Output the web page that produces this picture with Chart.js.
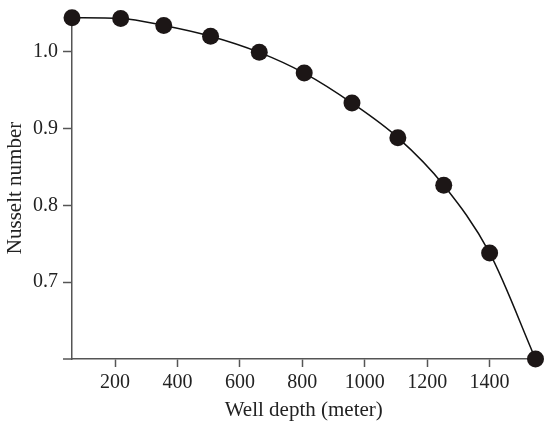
<!DOCTYPE html>
<html>
<head>
<meta charset="utf-8">
<script src="https://cdn.jsdelivr.net/npm/chart.js@4/dist/chart.umd.min.js"></script>
<style>
html,body{margin:0;padding:0;background:#fff;}
#wrap{width:544px;height:427px;}
</style>
</head>
<body>
<div id="wrap"><canvas id="c" width="544" height="427"></canvas></div>
<script>
const depths = [62, 218, 356, 506, 662, 806, 959, 1106, 1253, 1400, 1547];
const nusselt = [1.044, 1.043, 1.034, 1.020, 0.999, 0.972, 0.933, 0.888, 0.826, 0.738, 0.600];
const xTicks = [200, 400, 600, 800, 1000, 1200, 1400];
const yTicks = [0.7, 0.8, 0.9, 1.0];

const axisColor = '#555';
const family = '"Liberation Serif", "DejaVu Serif", serif';
const font = {family: family, size: 20};
const titleFont = {family: family, size: 21};

const extendAxis = {
  id: 'extendAxis',
  afterDraw(chart) {
    const {ctx, chartArea} = chart;
    ctx.save();
    ctx.strokeStyle = axisColor;
    ctx.lineWidth = 1.5;
    ctx.beginPath();
    ctx.moveTo(chartArea.left - 9, chartArea.bottom);
    ctx.lineTo(chartArea.left, chartArea.bottom);
    ctx.stroke();
    ctx.restore();
  }
};

new Chart(document.getElementById('c'), {
  type: 'scatter',
  data: {
    datasets: [{
      data: depths.map((d, i) => ({x: d, y: nusselt[i]})),
      showLine: true,
      borderColor: '#111',
      borderWidth: 1.5,
      cubicInterpolationMode: 'monotone',
      pointRadius: 8.5,
      pointHoverRadius: 8.5,
      pointBackgroundColor: '#1c1616',
      pointBorderColor: '#1c1616',
      pointBorderWidth: 0,
      clip: false
    }]
  },
  plugins: [extendAxis],
  options: {
    responsive: false,
    animation: false,
    devicePixelRatio: 1,
    layout: {padding: {left: 0, right: 7, top: 15, bottom: 0}},
    plugins: {legend: {display: false}, tooltip: {enabled: false}},
    scales: {
      x: {
        type: 'linear',
        min: 62,
        max: 1547,
        afterFit(s) { s.height = 68; },
        afterBuildTicks(s) { s.ticks = xTicks.map(v => ({value: v})); },
        grid: {drawOnChartArea: false, drawTicks: true, tickLength: 8, tickColor: axisColor, tickWidth: 1.5},
        border: {color: axisColor, width: 1.5},
        ticks: {color: '#222', font: font, padding: 4, maxRotation: 0, autoSkip: false, callback: v => String(v)},
        title: {display: true, text: 'Well depth (meter)', color: '#222', font: titleFont, padding: {top: 0, bottom: 4}}
      },
      y: {
        type: 'linear',
        min: 0.6,
        max: 1.045,
        afterFit(s) { s.width = 72; },
        afterBuildTicks(s) { s.ticks = yTicks.map(v => ({value: v})); },
        grid: {drawOnChartArea: false, drawTicks: true, tickLength: 9, tickColor: axisColor, tickWidth: 1.5},
        border: {color: axisColor, width: 1.5},
        ticks: {color: '#222', font: font, padding: 5, autoSkip: false, callback: v => Number(v).toFixed(1)},
        title: {display: true, text: 'Nusselt number', color: '#222', font: titleFont, padding: {top: 3, bottom: 0}}
      }
    }
  }
});
</script>
</body>
</html>
